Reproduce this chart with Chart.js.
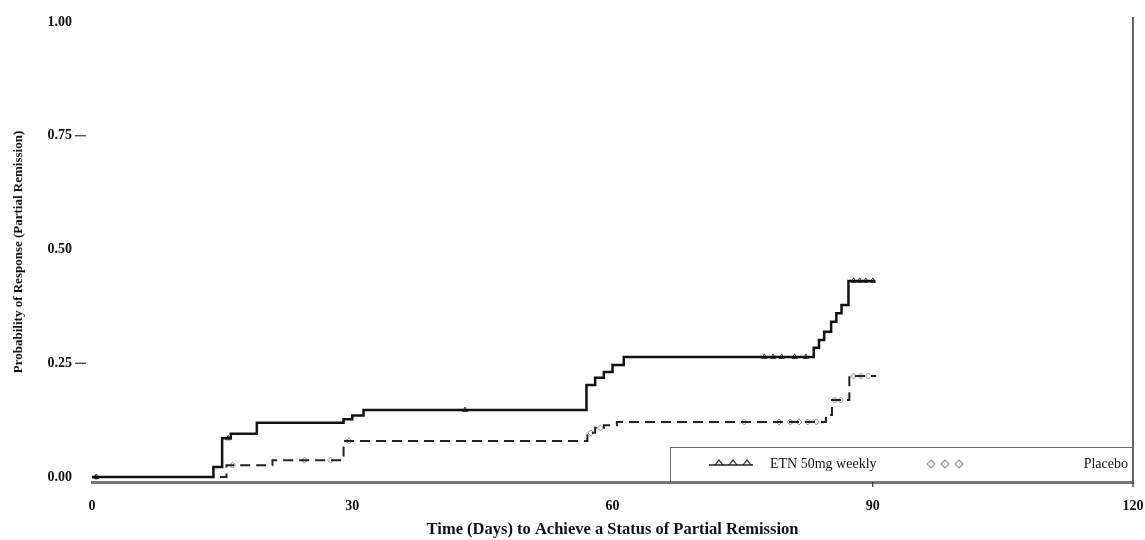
<!DOCTYPE html>
<html>
<head>
<meta charset="utf-8">
<title>Partial Remission</title>
<script src="https://cdn.jsdelivr.net/npm/chart.js@4/dist/chart.umd.min.js"></script>
<style>
body { margin: 0; background: #fff; }
#wrap { position: relative; width: 1145px; height: 540px; }
.legend-box
{
   position: absolute;
   left: 670px; top: 447px;
   width: 462px; height: 34px;
   border: 1px solid #666; border-bottom: none;
   font-family: "Liberation Serif", "DejaVu Serif", serif;
   font-size: 14px; color: #111;
}
.legend-box span, .legend-box svg { position: absolute; }
</style>
</head>
<body>
<div id="wrap">
  <canvas id="km"></canvas>
  <div class="legend-box">
    <svg style="left:36px; top:10px" width="48" height="12">
      <line x1="2" y1="7" x2="46" y2="7" stroke="#222" stroke-width="1.5"/>
      <path d="M8 7 L12 2 L16 7 M22 7 L26 2 L30 7 M36 7 L40 2 L44 7" fill="none" stroke="#222" stroke-width="1.2"/>
    </svg>
    <span style="left:99px; top:8px">ETN 50mg weekly</span>
    <svg style="left:254px; top:9px" width="44" height="14">
      <path d="M6 3 L10 7 L6 11 L2 7 Z M20 3 L24 7 L20 11 L16 7 Z M34 3 L38 7 L34 11 L30 7 Z" fill="none" stroke="#999" stroke-width="1.2"/>
    </svg>
    <span style="right:5px; top:8px">Placebo</span>
  </div>
</div>

<script>

// Kaplan-Meier steps
var etnDays = [0, 14, 15, 16, 19, 29, 30, 31.3, 57, 58, 59, 60, 61.3, 83.2, 83.8, 84.4, 85.2, 85.8, 86.4, 87.2, 90.3];
var etnProb = [0, 0.022, 0.085, 0.095, 0.119, 0.127, 0.135, 0.147, 0.202, 0.218, 0.231, 0.246, 0.264, 0.284, 0.301, 0.319, 0.341, 0.360, 0.378, 0.431, 0.431];

var pboDays = [0, 15.5, 20.8, 29, 57.1, 58, 59, 60.5, 84.6, 85.3, 87.3, 90.4];
var pboProb = [0, 0.026, 0.037, 0.079, 0.097, 0.108, 0.114, 0.121, 0.136, 0.169, 0.222, 0.222];

// censored observations
var etnCensorDays = [0.5, 15.7, 43, 77.5, 78.5, 79.5, 81, 82.3, 87.8, 88.5, 89.2, 90];
var etnCensorProb = [0, 0.085, 0.147, 0.264, 0.264, 0.264, 0.264, 0.264, 0.431, 0.431, 0.431, 0.431];
var pboCensorDays = [0.5, 16.2, 24.5, 27.5, 29.6, 57.5, 58.6, 75.2, 79.2, 80.5, 81.5, 82.5, 83.5, 85.6, 86.3, 87.8, 88.6, 89.5];
var pboCensorProb = [0, 0.026, 0.037, 0.037, 0.079, 0.097, 0.108, 0.121, 0.121, 0.121, 0.121, 0.121, 0.121, 0.169, 0.169, 0.222, 0.222, 0.222];

var xTicks = [0, 30, 60, 90, 120];
var yTicks = [0, 0.25, 0.5, 0.75, 1];
var yDashTicks = [0.25, 0.75];
var xMarkTicks = [90, 120];

function pts(xs, ys) 
{
    return xs.map(function(x, i) { return {x: x, y: ys[i]}; });
}

var serif = '"Liberation Serif", "DejaVu Serif", serif';

// right frame line and little tick marks
var frame = {
  id: 'frame',
  afterDraw: function(chart) {
    var ctx = chart.ctx, a = chart.chartArea;
    var xs = chart.scales.x, ys = chart.scales.y;
    ctx.save();
    ctx.strokeStyle = '#666';
    ctx.lineWidth = 2;
    ctx.beginPath();
    ctx.moveTo(a.right, a.top - 5);
    ctx.lineTo(a.right, a.bottom);
    ctx.stroke();
    ctx.lineWidth = 1.2;
    ctx.strokeStyle = '#333';
    yDashTicks.forEach(function(v) {
      var y = ys.getPixelForValue(v);
      ctx.beginPath(); ctx.moveTo(75, y); ctx.lineTo(86, y); ctx.stroke();
    });
    xMarkTicks.forEach(function(v) {
      var x = xs.getPixelForValue(v);
      ctx.beginPath(); ctx.moveTo(x, a.bottom); ctx.lineTo(x, a.bottom + 5); ctx.stroke();
    });
    ctx.restore();
  }
};

new Chart("km", {
  type: "line",
  data: {
    datasets: [{
      label: "ETN 50mg weekly",
      data: pts(etnDays, etnProb),
      stepped: true,
      borderColor: "#111",
      borderWidth: 2.5,
      pointRadius: 0,
      fill: false
    }, {
      label: "Placebo",
      data: pts(pboDays, pboProb),
      stepped: true,
      borderColor: "#222",
      borderWidth: 2,
      borderDash: [10, 6],
      pointRadius: 0,
      fill: false
    }, {
      label: "ETN censored",
      data: pts(etnCensorDays, etnCensorProb),
      showLine: false,
      pointStyle: 'triangle',
      pointRadius: 3,
      borderColor: "#333",
      backgroundColor: "#fff",
      borderWidth: 1
    }, {
      label: "Placebo censored",
      data: pts(pboCensorDays, pboCensorProb),
      showLine: false,
      pointStyle: 'rectRot',
      pointRadius: 3,
      borderColor: "#888",
      backgroundColor: "#fff",
      borderWidth: 1
    }]
  },
  options: {
    responsive: true,
    maintainAspectRatio: false,
    animation: false,
    layout: {padding: {top: 22, right: 12, left: 0, bottom: 0}},
    plugins: {
      legend: {display: false},
      tooltip: {enabled: false}
    },
    scales: {
      x: {
        type: 'linear',
        min: 0, max: 120,
        afterBuildTicks: function(s) { s.ticks = xTicks.map(function(v) { return {value: v}; }); },
        afterFit: function(s) { s.height = 58; s.paddingLeft = 0; s.paddingRight = 0; },
        grid: {display: false, drawTicks: false},
        border: {display: true, color: '#777', width: 3},
        ticks: {
          padding: 16,
          color: '#111',
          font: {family: serif, size: 14, weight: 'bold'},
          callback: function(v) { return String(v); }
        },
        title: {
          display: true,
          text: 'Time (Days) to Achieve a Status of Partial Remission',
          color: '#111',
          font: {family: serif, size: 16.5, weight: 'bold'},
          padding: {top: 0, bottom: 0}
        }
      },
      y: {
        min: -0.011, max: 1,
        afterBuildTicks: function(s) { s.ticks = yTicks.map(function(v) { return {value: v}; }); },
        afterFit: function(s) { s.width = 92; s.paddingTop = 0; s.paddingBottom = 0; },
        grid: {display: false, drawTicks: false},
        border: {display: false},
        ticks: {
          padding: 20,
          color: '#111',
          font: {family: serif, size: 14, weight: 'bold'},
          callback: function(v) { return v.toFixed(2); }
        },
        title: {
          display: true,
          text: 'Probability of Response (Partial Remission)',
          color: '#111',
          font: {family: serif, size: 13, weight: 'bold'},
          padding: {top: 11, bottom: 0}
        }
      }
    }
  },
  plugins: [frame]
});

</script>
</body>
</html>
